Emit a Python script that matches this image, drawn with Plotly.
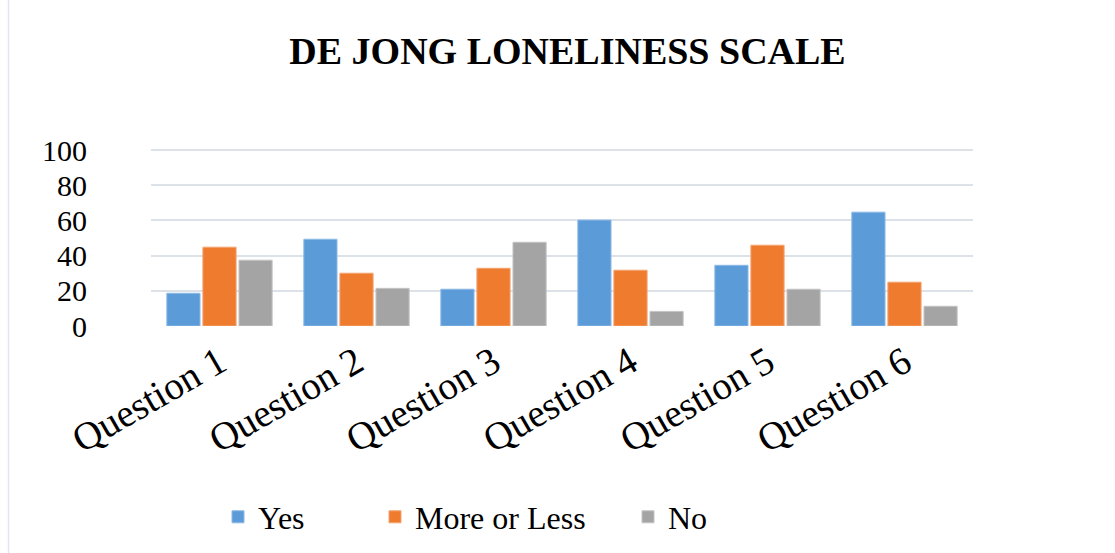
import plotly.graph_objects as go

categories = ["Question 1", "Question 2", "Question 3", "Question 4", "Question 5", "Question 6"]
yes_vals = [18.6, 49.3, 20.9, 60.2, 34.5, 64.7]
more_vals = [44.8, 30.0, 32.8, 31.7, 45.9, 24.9]
no_vals = [37.4, 21.4, 47.6, 8.3, 20.9, 11.2]
y_ticks = [0, 20, 40, 60, 80, 100]

W, H = 1115, 553
L, R, T, B = 151, 142, 149, 227
pw, ph = W - L - R, H - T - B

def px_x(p):
    return (p - L) / pw

def px_y(p):
    return (H - B - p) / ph

FONT = "Liberation Serif, Times New Roman, serif"

fig = go.Figure()
series = [
    ("Yes", yes_vals, "#5a9bd8", "#8db9e6", "legend"),
    ("More or Less", more_vals, "#ee7b2e", "#f4a472", "legend2"),
    ("No", no_vals, "#a4a4a4", "#c4c4c4", "legend3"),
]
for name, vals, col, edge, lg in series:
    fig.add_trace(go.Bar(
        x=categories, y=vals, name=name,
        marker=dict(color=col, line=dict(color=edge, width=1)),
        legend=lg, showlegend=True,
    ))

legend_common = dict(
    orientation="h", yanchor="middle", xanchor="left",
    font=dict(family=FONT, size=32, color="#000000"),
    bgcolor="rgba(0,0,0,0)", borderwidth=0, visible=True,
)
fig.update_layout(
    width=W, height=H, showlegend=True,
    margin=dict(l=L, r=R, t=T, b=B, autoexpand=False),
    paper_bgcolor="white", plot_bgcolor="white",
    barmode="group", bargap=0.21, bargroupgap=0.08,
    title=dict(text="<b>DE JONG LONELINESS SCALE</b>",
               font=dict(family=FONT, size=38, color="#000000"),
               x=(567.5) / W, xanchor="center", y=1 - 51 / H, yanchor="middle"),
    legend=dict(x=px_x(218), y=px_y(517), **legend_common),
    legend2=dict(x=px_x(375), y=px_y(517), **legend_common),
    legend3=dict(x=px_x(628), y=px_y(517), **legend_common),
    xaxis=dict(tickangle=-30, tickfont=dict(family=FONT, size=39, color="#000000"),
               showline=False, ticks="", showgrid=False, ticklabelstandoff=5),
    yaxis=dict(range=[0, 100.6], tickvals=y_ticks, ticktext=[str(v) for v in y_ticks],
               tickfont=dict(family=FONT, size=30, color="#000000"),
               showgrid=True, gridcolor="#dde1e8", gridwidth=1.5,
               zeroline=False, showline=False, ticks="", ticklabelstandoff=63),
    shapes=[dict(type="line", xref="paper", yref="paper",
                 x0=px_x(8.5), x1=px_x(8.5), y0=px_y(0), y1=px_y(H),
                 line=dict(color="#e3e6ec", width=1.5))],
)
fig.write_html("out.html")
